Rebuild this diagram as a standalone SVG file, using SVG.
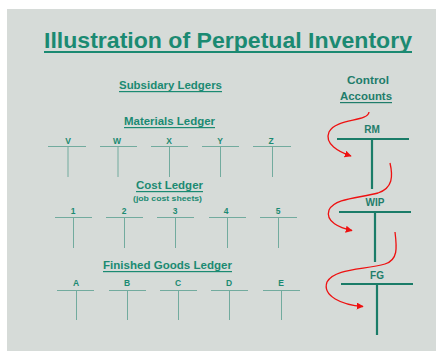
<svg xmlns="http://www.w3.org/2000/svg" width="436" height="351" viewBox="0 0 436 351">
<defs>
<style>
text{font-family:"Liberation Sans",Arial,sans-serif;font-weight:bold;fill:#1b8a72;text-anchor:middle}
.h{font-size:11px}
.lab{font-size:8.5px}
.t{stroke:#72ab9e;stroke-width:1;fill:none}
.c{stroke:#1a7c68;stroke-width:2.2;fill:none}
.ul{fill:#1b8a72}
.arr{stroke:#ee1111;stroke-width:1.3;fill:none;marker-end:url(#ah)}
</style>
<marker id="ah" viewBox="0 0 10 10" refX="9" refY="5" markerWidth="7" markerHeight="7" markerUnits="userSpaceOnUse" orient="auto">
<path d="M0,0 L10,5 L0,10 z" fill="#ee1111"/>
</marker>
</defs>
<rect x="0" y="0" width="436" height="351" fill="#ffffff"/>
<rect x="7" y="9" width="429" height="342" fill="#d6dbd8"/>

<g id="title">
<text x="228" y="48" style="font-size:22px" textLength="368" lengthAdjust="spacingAndGlyphs">Illustration of Perpetual Inventory</text>
<rect class="ul" x="44" y="51" width="368" height="2"/>
</g>

<g id="subsidiary">
<text class="h" x="170.5" y="89" textLength="103" lengthAdjust="spacingAndGlyphs">Subsidary Ledgers</text>
<rect class="ul" x="119" y="91" width="103" height="1.2"/>
</g>

<g id="control-header">
<text class="h" x="368" y="84" textLength="42" lengthAdjust="spacingAndGlyphs" style="fill:#1f7d6b">Control</text>
<text class="h" x="366" y="100" textLength="52" lengthAdjust="spacingAndGlyphs" style="fill:#1f7d6b">Accounts</text>
<rect class="ul" x="340" y="102" width="52" height="1.2" style="fill:#1f7d6b"/>
</g>

<g id="materials-ledger">
<text class="h" x="169.5" y="125" textLength="91" lengthAdjust="spacingAndGlyphs">Materials Ledger</text>
<rect class="ul" x="124" y="127" width="91" height="1.2"/>
<g id="acct-V"><text class="lab" x="68" y="143.5">V</text><path class="t" d="M48,146.5H86M68,146.5V177"/></g>
<g id="acct-W"><text class="lab" x="117" y="143.5">W</text><path class="t" d="M100,146.5H137M118,146.5V177"/></g>
<g id="acct-X"><text class="lab" x="169" y="143.5">X</text><path class="t" d="M151,146.5H188M169.5,146.5V177"/></g>
<g id="acct-Y"><text class="lab" x="220" y="143.5">Y</text><path class="t" d="M202,146.5H239M220.5,146.5V177"/></g>
<g id="acct-Z"><text class="lab" x="271" y="143.5">Z</text><path class="t" d="M253,146.5H291M272.5,146.5V177"/></g>
</g>

<g id="cost-ledger">
<text class="h" x="169.5" y="189" textLength="67" lengthAdjust="spacingAndGlyphs">Cost Ledger</text>
<rect class="ul" x="136" y="191" width="67" height="1.2"/>
<text x="167.5" y="200.5" style="font-size:7.5px" textLength="69" lengthAdjust="spacingAndGlyphs">(job cost sheets)</text>
<g id="acct-1"><text class="lab" x="73" y="214">1</text><path class="t" d="M55,217.5H92M73.5,217.5V248"/></g>
<g id="acct-2"><text class="lab" x="124" y="214">2</text><path class="t" d="M106,217.5H143M124.5,217.5V248"/></g>
<g id="acct-3"><text class="lab" x="175" y="214">3</text><path class="t" d="M157,217.5H194M175.5,217.5V248"/></g>
<g id="acct-4"><text class="lab" x="226" y="214">4</text><path class="t" d="M209,217.5H246M227.5,217.5V248"/></g>
<g id="acct-5"><text class="lab" x="278" y="214">5</text><path class="t" d="M260,217.5H297M278.5,217.5V248"/></g>
</g>

<g id="finished-goods-ledger">
<text class="h" x="167.5" y="269" textLength="129" lengthAdjust="spacingAndGlyphs">Finished Goods Ledger</text>
<rect class="ul" x="103" y="271" width="129" height="1.2"/>
<g id="acct-A"><text class="lab" x="76" y="286">A</text><path class="t" d="M57,290.5H94M76.5,290.5V320"/></g>
<g id="acct-B"><text class="lab" x="127" y="286">B</text><path class="t" d="M109,290.5H146M127.5,290.5V320"/></g>
<g id="acct-C"><text class="lab" x="178" y="286">C</text><path class="t" d="M160,290.5H197M178.5,290.5V320"/></g>
<g id="acct-D"><text class="lab" x="229" y="286">D</text><path class="t" d="M211,290.5H248M229.5,290.5V320"/></g>
<g id="acct-E"><text class="lab" x="281" y="286">E</text><path class="t" d="M263,290.5H300M281.5,290.5V320"/></g>
</g>

<g id="RM">
<text x="372" y="133" style="font-size:10px;fill:#1f7d6b">RM</text>
<path class="c" d="M337,139H409M372,139V189"/>
</g>
<g id="WIP">
<text x="375" y="206" style="font-size:10px;fill:#1f7d6b">WIP</text>
<path class="c" d="M339,212H411M375,212V262"/>
</g>
<g id="FG">
<text x="377" y="279" style="font-size:10px;fill:#1f7d6b">FG</text>
<path class="c" d="M341,284H413M377,284V335"/>
</g>

<g id="connectors">
<path class="arr" d="M369,112 C368,122 336,118 329,132 C324,144 339,152 351,156"/>
<path class="arr" d="M390,163 C393,176 393,188 378,193 C360,198 335,198 329,210 C325,222 340,228 352,230.5"/>
<path class="arr" d="M395,232 C397,248 398,260 385,264 C365,270 335,268 327,282 C322,296 342,305 363,306.5"/>
</g>
</svg>
